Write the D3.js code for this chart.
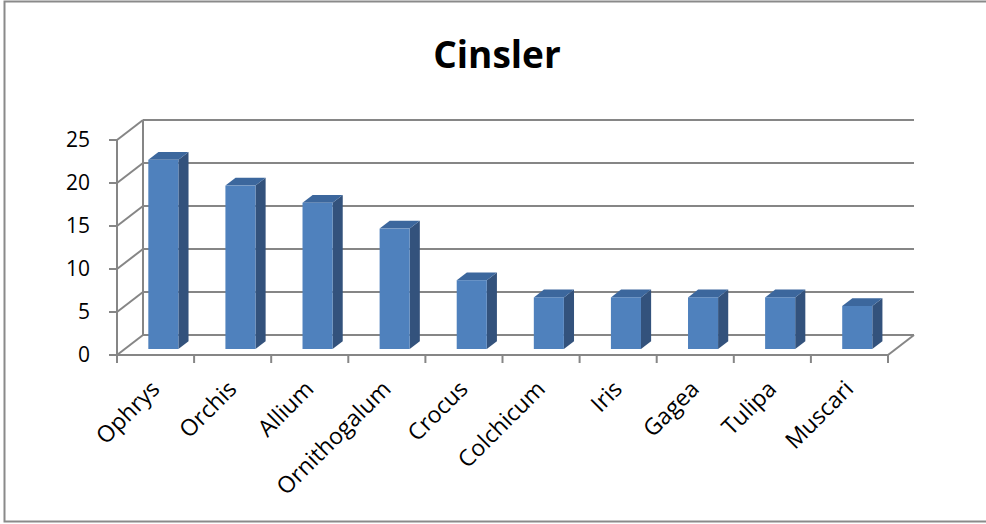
<!DOCTYPE html>
<html>
<head>
<meta charset="utf-8">
<script src="https://cdn.jsdelivr.net/npm/d3@7"></script>
<style>
html,body{margin:0;padding:0;background:#fff;}
svg{display:block;}
text{font-family:"Open Sans","Lato",sans-serif;fill:#000;}
</style>
</head>
<body>
<svg id="chart" width="986" height="524"></svg>
<script>
const title = "Cinsler";
const categories = ["Ophrys","Orchis","Allium","Ornithogalum","Crocus","Colchicum","Iris","Gagea","Tulipa","Muscari"];
const values = [22,19,17,14,8,6,6,6,6,5];
const yTicks = [0,5,10,15,20,25];

const svg = d3.select("#chart");
const W = 986, H = 524;

// chart border
svg.append("rect").attr("x",4.5).attr("y",1.5).attr("width",W+10).attr("height",520)
  .attr("fill","#fff").attr("stroke","#8a8a8a").attr("stroke-width",2);

// geometry
const frontLeft = 117, frontRight = 888;
const depthDx = 26, depthDy = -20;
const x = d3.scaleBand().domain(categories).range([frontLeft, frontRight]).paddingInner(0).paddingOuter(0);
const y = d3.scaleLinear().domain([0,25]).range([355,140]);

const grid = "#868686";
const g = svg.append("g");

// back wall gridlines + side wall diagonals
yTicks.forEach(t => {
  g.append("line")
    .attr("x1", frontLeft + depthDx).attr("x2", frontRight + depthDx)
    .attr("y1", y(t) + depthDy).attr("y2", y(t) + depthDy)
    .attr("stroke", grid).attr("stroke-width", 2);
  g.append("line")
    .attr("x1", frontLeft).attr("y1", y(t))
    .attr("x2", frontLeft + depthDx).attr("y2", y(t) + depthDy)
    .attr("stroke", grid).attr("stroke-width", 2);
});
// back wall left vertical
g.append("line").attr("x1", frontLeft+depthDx).attr("x2", frontLeft+depthDx)
  .attr("y1", y(25)+depthDy).attr("y2", y(0)+depthDy).attr("stroke", grid).attr("stroke-width", 2);
// floor right edge
g.append("line").attr("x1", frontRight).attr("y1", y(0))
  .attr("x2", frontRight+depthDx).attr("y2", y(0)+depthDy).attr("stroke", grid).attr("stroke-width", 2);

// front y-axis
g.append("line").attr("x1", frontLeft).attr("x2", frontLeft)
  .attr("y1", y(25)).attr("y2", y(0)).attr("stroke", grid).attr("stroke-width", 2);
yTicks.forEach(t => {
  g.append("line").attr("x1", frontLeft-8).attr("x2", frontLeft)
    .attr("y1", y(t)).attr("y2", y(t)).attr("stroke", grid).attr("stroke-width", 2);
  g.append("text").attr("x", 90).attr("y", y(t)).attr("dy","0.35em")
    .attr("text-anchor","end").attr("font-size", 21).text(t);
});

// front x-axis
g.append("line").attr("x1", frontLeft).attr("x2", frontRight)
  .attr("y1", y(0)).attr("y2", y(0)).attr("stroke", grid).attr("stroke-width", 2);
categories.concat([null]).forEach((c,i) => {
  const xp = frontLeft + i * x.bandwidth();
  g.append("line").attr("x1", xp).attr("x2", xp).attr("y1", y(0)).attr("y2", y(0)+8)
    .attr("stroke", grid).attr("stroke-width", 2);
});

// bars
const dFront = 0.3, dBack = 0.69;
const barW = x.bandwidth() * 0.39;
const fc = "#4F81BD", sc = "#33527C", tc = "#3C679D";
categories.forEach((c,i) => {
  const v = values[i];
  const ox = dFront*depthDx, oy = dFront*depthDy;
  const bx = x(c) + (x.bandwidth()-barW)/2 + ox;
  const by0 = y(0) + oy, by1 = y(v) + oy;
  const ddx = (dBack-dFront)*depthDx, ddy = (dBack-dFront)*depthDy;
  const bar = g.append("g");
  bar.append("path").attr("d", `M${bx+barW},${by1} L${bx+barW+ddx},${by1+ddy} L${bx+barW+ddx},${by0+ddy} L${bx+barW},${by0} Z`)
    .attr("fill", sc);
  bar.append("path").attr("d", `M${bx},${by1} L${bx+ddx},${by1+ddy} L${bx+barW+ddx},${by1+ddy} L${bx+barW},${by1} Z`)
    .attr("fill", tc);
  bar.append("rect").attr("x", bx).attr("y", by1).attr("width", barW).attr("height", by0-by1)
    .attr("fill", fc);
});

// x labels
categories.forEach((c,i) => {
  const cx = x(c) + x.bandwidth()/2 - 6;
  const cy = y(0) + 24;
  g.append("text").attr("transform", `translate(${cx},${cy}) rotate(-45)`)
    .attr("text-anchor","end").attr("dy","0.7em").attr("font-size", 23).text(c);
});

// title
svg.append("text").attr("x", 497).attr("y", 68).attr("text-anchor","middle")
  .attr("font-size", 37).attr("font-weight","bold").text(title);
</script>
</body>
</html>
